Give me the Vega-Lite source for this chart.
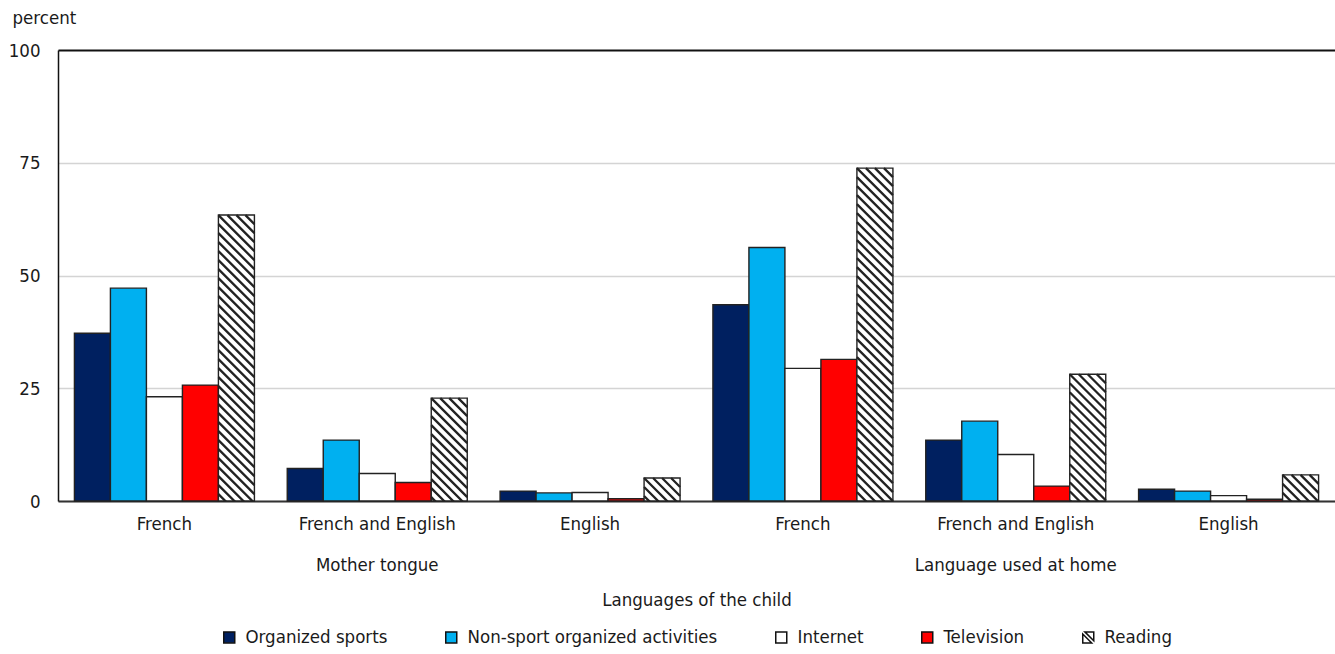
{
  "$schema": "https://vega.github.io/schema/vega-lite/v6.json",
  "autosize": "none",
  "width": 1277,
  "height": 451,
  "padding": {"left": 58, "top": 50, "right": 0, "bottom": 153},
  "background": "white",
  "config": {
    "font": "Liberation Sans Narrow, Arial Narrow, DejaVu Sans Condensed, Roboto, sans-serif",
    "view": {"stroke": null},
    "text": {"color": "#1a1a1a"}
  },
  "data": {
    "values": [
      {"group": "Mother tongue: French", "activity": "Organized sports", "percent": 37.2},
      {"group": "Mother tongue: French", "activity": "Non-sport organized activities", "percent": 47.2},
      {"group": "Mother tongue: French", "activity": "Internet", "percent": 23.1},
      {"group": "Mother tongue: French", "activity": "Television", "percent": 25.7},
      {"group": "Mother tongue: French", "activity": "Reading", "percent": 63.4},
      {"group": "Mother tongue: French and English", "activity": "Organized sports", "percent": 7.2},
      {"group": "Mother tongue: French and English", "activity": "Non-sport organized activities", "percent": 13.5},
      {"group": "Mother tongue: French and English", "activity": "Internet", "percent": 6.1},
      {"group": "Mother tongue: French and English", "activity": "Television", "percent": 4.1},
      {"group": "Mother tongue: French and English", "activity": "Reading", "percent": 22.8},
      {"group": "Mother tongue: English", "activity": "Organized sports", "percent": 2.2},
      {"group": "Mother tongue: English", "activity": "Non-sport organized activities", "percent": 1.8},
      {"group": "Mother tongue: English", "activity": "Internet", "percent": 1.9},
      {"group": "Mother tongue: English", "activity": "Television", "percent": 0.5},
      {"group": "Mother tongue: English", "activity": "Reading", "percent": 5.1},
      {"group": "Language used at home: French", "activity": "Organized sports", "percent": 43.5},
      {"group": "Language used at home: French", "activity": "Non-sport organized activities", "percent": 56.2},
      {"group": "Language used at home: French", "activity": "Internet", "percent": 29.4},
      {"group": "Language used at home: French", "activity": "Television", "percent": 31.4},
      {"group": "Language used at home: French", "activity": "Reading", "percent": 73.8},
      {"group": "Language used at home: French and English", "activity": "Organized sports", "percent": 13.5},
      {"group": "Language used at home: French and English", "activity": "Non-sport organized activities", "percent": 17.7},
      {"group": "Language used at home: French and English", "activity": "Internet", "percent": 10.3},
      {"group": "Language used at home: French and English", "activity": "Television", "percent": 3.3},
      {"group": "Language used at home: French and English", "activity": "Reading", "percent": 28.1},
      {"group": "Language used at home: English", "activity": "Organized sports", "percent": 2.6},
      {"group": "Language used at home: English", "activity": "Non-sport organized activities", "percent": 2.2},
      {"group": "Language used at home: English", "activity": "Internet", "percent": 1.2},
      {"group": "Language used at home: English", "activity": "Television", "percent": 0.4},
      {"group": "Language used at home: English", "activity": "Reading", "percent": 5.8}
    ]
  },
  "encoding": {
    "x": {
      "field": "group",
      "type": "nominal",
      "sort": null,
      "scale": {"paddingInner": 0, "paddingOuter": 0},
      "axis": {
        "title": "Languages of the child",
        "titleFontSize": 18.5,
        "titleFontWeight": "normal",
        "titleColor": "#1a1a1a",
        "titleBaseline": "alphabetic",
        "titleY": 104,
        "labelAngle": 0,
        "labelFontSize": 18.5,
        "labelColor": "#1a1a1a",
        "labelPadding": 13,
        "labelLineHeight": 41,
        "labelLimit": 0,
        "ticks": false,
        "tickSize": 0,
        "grid": false,
        "domainColor": "#333333",
        "domainWidth": 2,
        "labelExpr": "datum.value === 'Mother tongue: French and English' ? ['French and English', 'Mother tongue'] : datum.value === 'Language used at home: French and English' ? ['French and English', 'Language used at home'] : split(datum.value, ': ')[1]"
      }
    },
    "xOffset": {
      "field": "activity",
      "type": "nominal",
      "sort": ["Organized sports", "Non-sport organized activities", "Internet", "Television", "Reading"],
      "scale": {"paddingInner": 0, "paddingOuter": 0.456}
    },
    "y": {
      "field": "percent",
      "type": "quantitative",
      "scale": {"domain": [0, 100], "nice": false},
      "axis": {
        "values": [0, 25, 50, 75, 100],
        "title": "percent",
        "titleAngle": 0,
        "titleAlign": "left",
        "titleBaseline": "alphabetic",
        "titleX": -46,
        "titleY": -27,
        "titleFontSize": 18.5,
        "titleFontWeight": "normal",
        "titleColor": "#1a1a1a",
        "labelFontSize": 18.5,
        "labelColor": "#1a1a1a",
        "labelPadding": 18,
        "ticks": false,
        "tickSize": 0,
        "domainColor": "#111111",
        "domainWidth": 1.5,
        "grid": true,
        "gridColor": {"condition": {"test": "datum.value === 100", "value": "#111111"}, "value": "#d4d4d4"},
        "gridWidth": {"condition": {"test": "datum.value === 100", "value": 2}, "value": 1.5}
      }
    }
  },
  "layer": [
    {
      "mark": {"type": "bar", "stroke": "#222222", "strokeWidth": 1.4},
      "encoding": {
        "fill": {
          "field": "activity",
          "type": "nominal",
          "scale": {
            "domain": ["Organized sports", "Non-sport organized activities", "Internet", "Television", "Reading"],
            "range": ["#002060", "#00B0F0", "#FFFFFF", "#FF0000", "#FFFFFF"]
          },
          "legend": {
            "title": null,
            "orient": "none",
            "direction": "horizontal",
            "legendX": 162,
            "legendY": 578,
            "padding": 0,
            "columnPadding": 54,
            "labelOffset": 7,
            "labelFontSize": 18.5,
            "labelColor": "#1a1a1a",
            "labelLimit": 0,
            "symbolType": "square",
            "symbolSize": 121,
            "symbolStrokeColor": "#111111",
            "symbolStrokeWidth": 1.5,
            "encode": {
              "symbols": {
                "update": {
                  "shape": {"signal": "datum.value === 'Reading' ? 'M -0.62 -1 L 1 -1 L 1 0.62 Z M -1 -0.62 L -1 1 L 0.62 1 Z' : 'square'"},
                  "fill": {"signal": "datum.value === 'Reading' ? '#222222' : datum.value === 'Organized sports' ? '#002060' : datum.value === 'Internet' ? '#FFFFFF' : datum.value === 'Television' ? '#FF0000' : '#00B0F0'"},
                  "stroke": {"value": "#111111"},
                  "strokeWidth": {"value": 1.5},
                  "opacity": {"value": 1},
                  "size": {"value": 121}
                }
              }
            }
          }
        }
      }
    },
    {
      "transform": [{"filter": "datum.activity === 'Reading'"}],
      "mark": {
        "type": "point",
        "clip": true,
        "filled": false,
        "opacity": 1,
        "size": 4,
        "stroke": "#222222",
        "strokeWidth": 2.3,
        "shape": "M 9 0 L 18 9 M 0 0 L 18 18 M -9 0 L 18 27 M -18 0 L 18 36 M -18 9 L 18 45 M -18 18 L 18 54 M -18 27 L 18 63 M -18 36 L 18 72 M -18 45 L 18 81 M -18 54 L 18 90 M -18 63 L 18 99 M -18 72 L 18 108 M -18 81 L 18 117 M -18 90 L 18 126 M -18 99 L 18 135 M -18 108 L 18 144 M -18 117 L 18 153 M -18 126 L 18 162 M -18 135 L 18 171 M -18 144 L 18 180 M -18 153 L 18 189 M -18 162 L 18 198 M -18 171 L 18 207 M -18 180 L 18 216 M -18 189 L 18 225 M -18 198 L 18 234 M -18 207 L 18 243 M -18 216 L 18 252 M -18 225 L 18 261 M -18 234 L 18 270 M -18 243 L 18 279 M -18 252 L 18 288 M -18 261 L 18 297 M -18 270 L 18 306 M -18 279 L 18 315 M -18 288 L 18 324 M -18 297 L 18 333 M -18 306 L 18 342 M -18 315 L 18 351 M -18 324 L 18 360 M -18 333 L 18 369 M -18 342 L 18 378 M -18 351 L 18 387"
      }
    }
  ]
}
